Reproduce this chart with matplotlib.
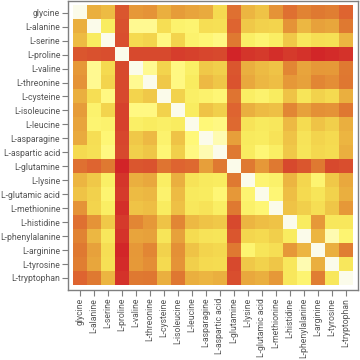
import numpy as np
import matplotlib
matplotlib.use("Agg")
import matplotlib.pyplot as plt
from matplotlib.colors import LinearSegmentedColormap

names = ["glycine", "L-alanine", "L-serine", "L-proline", "L-valine",
         "L-threonine", "L-cysteine", "L-isoleucine", "L-leucine",
         "L-asparagine", "L-aspartic acid", "L-glutamine", "L-lysine",
         "L-glutamic acid", "L-methionine", "L-histidine",
         "L-phenylalanine", "L-arginine", "L-tyrosine", "L-tryptophan"]

# dissimilarity values (0 = same, 1 = most different)
dist = [
    [0.00, 0.50, 0.45, 0.85, 0.60, 0.62, 0.50, 0.58, 0.55, 0.52, 0.30, 0.75, 0.48, 0.42, 0.62, 0.75, 0.68, 0.72, 0.70, 0.80],
    [0.50, 0.00, 0.22, 0.87, 0.12, 0.12, 0.28, 0.18, 0.17, 0.28, 0.27, 0.80, 0.40, 0.35, 0.33, 0.62, 0.47, 0.56, 0.54, 0.72],
    [0.45, 0.22, 0.00, 0.88, 0.30, 0.33, 0.14, 0.33, 0.18, 0.16, 0.14, 0.72, 0.20, 0.17, 0.21, 0.40, 0.24, 0.28, 0.27, 0.48],
    [0.85, 0.87, 0.88, 0.00, 0.90, 0.90, 0.90, 0.93, 0.92, 0.91, 0.90, 1.00, 0.95, 0.94, 0.97, 0.94, 0.96, 0.99, 0.98, 0.96],
    [0.60, 0.12, 0.30, 0.90, 0.00, 0.12, 0.33, 0.14, 0.20, 0.40, 0.36, 0.85, 0.50, 0.45, 0.42, 0.67, 0.55, 0.60, 0.59, 0.72],
    [0.62, 0.12, 0.33, 0.90, 0.12, 0.00, 0.40, 0.14, 0.22, 0.46, 0.41, 0.86, 0.53, 0.47, 0.44, 0.60, 0.56, 0.67, 0.64, 0.73],
    [0.50, 0.28, 0.14, 0.90, 0.33, 0.40, 0.00, 0.34, 0.20, 0.18, 0.16, 0.74, 0.21, 0.18, 0.22, 0.42, 0.25, 0.34, 0.30, 0.50],
    [0.58, 0.18, 0.33, 0.92, 0.14, 0.14, 0.34, 0.00, 0.22, 0.42, 0.36, 0.80, 0.50, 0.45, 0.43, 0.67, 0.56, 0.63, 0.62, 0.73],
    [0.55, 0.17, 0.18, 0.92, 0.20, 0.22, 0.20, 0.22, 0.00, 0.15, 0.14, 0.78, 0.26, 0.23, 0.24, 0.46, 0.29, 0.42, 0.36, 0.50],
    [0.52, 0.28, 0.16, 0.91, 0.40, 0.46, 0.18, 0.42, 0.15, 0.00, 0.08, 0.57, 0.23, 0.22, 0.26, 0.42, 0.26, 0.33, 0.30, 0.48],
    [0.30, 0.27, 0.14, 0.90, 0.36, 0.41, 0.16, 0.36, 0.14, 0.08, 0.00, 0.72, 0.22, 0.16, 0.21, 0.40, 0.25, 0.31, 0.29, 0.50],
    [0.75, 0.80, 0.72, 1.00, 0.85, 0.86, 0.74, 0.80, 0.78, 0.57, 0.72, 0.00, 0.72, 0.60, 0.72, 0.90, 0.85, 0.72, 0.90, 0.88],
    [0.48, 0.40, 0.20, 0.95, 0.50, 0.53, 0.21, 0.50, 0.26, 0.23, 0.22, 0.72, 0.00, 0.17, 0.19, 0.48, 0.32, 0.17, 0.40, 0.53],
    [0.42, 0.35, 0.17, 0.94, 0.45, 0.47, 0.18, 0.45, 0.23, 0.22, 0.16, 0.60, 0.17, 0.00, 0.16, 0.44, 0.30, 0.25, 0.34, 0.50],
    [0.62, 0.33, 0.21, 0.97, 0.42, 0.44, 0.22, 0.43, 0.24, 0.26, 0.21, 0.72, 0.19, 0.16, 0.00, 0.42, 0.36, 0.28, 0.41, 0.60],
    [0.75, 0.62, 0.40, 0.94, 0.67, 0.60, 0.42, 0.67, 0.46, 0.42, 0.40, 0.90, 0.48, 0.44, 0.42, 0.00, 0.22, 0.60, 0.24, 0.24],
    [0.68, 0.47, 0.24, 0.96, 0.55, 0.56, 0.25, 0.56, 0.29, 0.26, 0.25, 0.85, 0.32, 0.30, 0.36, 0.22, 0.00, 0.48, 0.08, 0.17],
    [0.72, 0.56, 0.28, 0.99, 0.60, 0.67, 0.34, 0.63, 0.42, 0.33, 0.31, 0.72, 0.17, 0.25, 0.28, 0.60, 0.48, 0.00, 0.50, 0.70],
    [0.70, 0.54, 0.27, 0.98, 0.59, 0.64, 0.30, 0.62, 0.36, 0.30, 0.29, 0.90, 0.40, 0.34, 0.41, 0.24, 0.08, 0.50, 0.00, 0.24],
    [0.80, 0.72, 0.48, 0.96, 0.72, 0.73, 0.50, 0.73, 0.50, 0.48, 0.50, 0.88, 0.53, 0.50, 0.60, 0.24, 0.17, 0.70, 0.24, 0.00],
]

cmap = LinearSegmentedColormap.from_list("ylrd", [
    (0.00, "#fbfbea"), (0.08, "#fffbb0"), (0.15, "#fff878"),
    (0.22, "#f9ec60"), (0.30, "#f5da50"), (0.40, "#f0c848"),
    (0.50, "#ebb040"), (0.60, "#e69838"), (0.72, "#e07a32"),
    (0.80, "#de6430"), (0.90, "#d84a2e"), (1.00, "#d22428")])

plt.rcParams['font.family'] = ['Roboto', 'DejaVu Sans']

fig = plt.figure(figsize=(3.6, 3.6), dpi=100)
ax = fig.add_axes([68/360, 70/360, 290/360, 289/360])
ax.imshow(np.array(dist), cmap=cmap, vmin=0, vmax=1, aspect="auto",
          interpolation="nearest")

n = len(names)
ax.set_xlim(-0.5 - 0.36, n - 0.5 + 0.36)
ax.set_ylim(n - 0.5 + 0.36, -0.5 - 0.34)
ax.set_xticks(range(n))
ax.set_yticks(range(n))
ax.set_xticklabels(names, rotation=90)
ax.set_yticklabels(names)
ax.tick_params(length=4, width=0.8, color="#7f7f7f", labelcolor="#555555",
               labelsize=6.2, pad=1.5)
for s in ax.spines.values():
    s.set_color("#7f7f7f")
    s.set_linewidth(1.0)

fig.savefig("out.png", dpi=100)
